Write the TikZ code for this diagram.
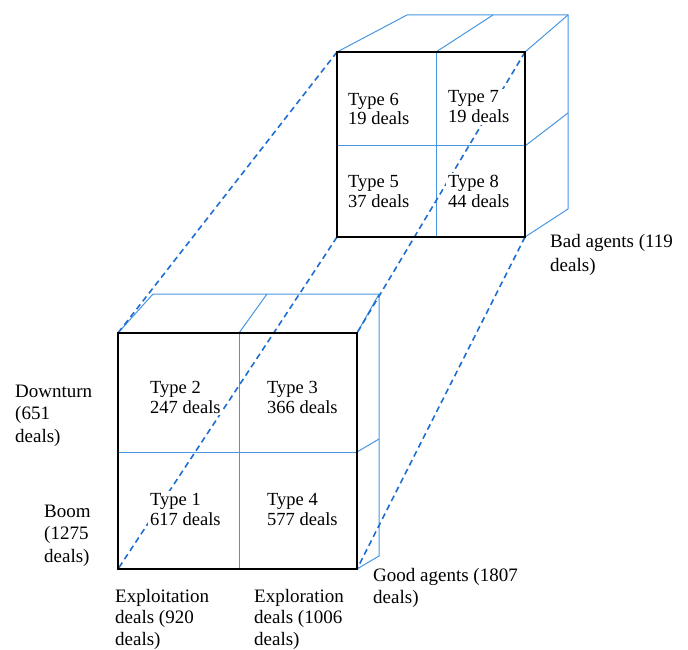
\documentclass[tikz,border=0pt]{standalone}
\usepackage{fontspec}
\setmainfont{Liberation Serif}
\definecolor{cubeblue}{RGB}{70,150,225}
\definecolor{dashblue}{RGB}{30,110,210}
\begin{document}
\begin{tikzpicture}[x=1pt,y=-1pt,
  grid/.style={cubeblue, line width=1pt},
  link/.style={dashblue, line width=1.6pt, dash pattern=on 6pt off 4pt},
  frame/.style={black, line width=2pt},
  cell/.style={anchor=base west, align=left, fill=white, inner sep=2pt, font=\fontsize{18.5}{20}\selectfont},
  axis/.style={anchor=base west, align=left, inner sep=0pt, font=\fontsize{19}{22.5}\selectfont}]
\useasboundingbox (0,0) rectangle (688,650);
% lower cube, front face corners
\coordinate (LTL) at (118,333); \coordinate (LTR) at (357,333);
\coordinate (LBR) at (357,569); \coordinate (LBL) at (118,569);
\coordinate (LTM) at (239,333); \coordinate (LBM) at (239,569);
\coordinate (LML) at (118,452); \coordinate (LMR) at (357,452);
% lower cube, back corners
\coordinate (LKL) at (153,294); \coordinate (LKM) at (267,294); \coordinate (LKR) at (379,294);
\coordinate (LKRM) at (379,439); \coordinate (LKRB) at (379,556);
% upper cube, front face corners
\coordinate (UTL) at (337,52); \coordinate (UTR) at (525,52);
\coordinate (UBR) at (525,237); \coordinate (UBL) at (337,237);
\coordinate (UTM) at (436,52); \coordinate (UBM) at (436,237);
\coordinate (UML) at (337,146); \coordinate (UMR) at (525,146);
% upper cube, back corners
\coordinate (UKL) at (407,15); \coordinate (UKM) at (493,15); \coordinate (UKR) at (568,15);
\coordinate (UKRM) at (568,113); \coordinate (UKRB) at (568,209);

% blue grid lines, lower cube
\draw[grid] (LTM) -- (LBM);
\draw[grid] (LML) -- (LMR);
\draw[grid] (LTL) -- (LKL) -- (LKR) -- (LKRB) -- (LBR);
\draw[grid] (LTM) -- (LKM);
\draw[grid] (LTR) -- (LKR);
\draw[grid] (LMR) -- (LKRM);
% blue grid lines, upper cube
\draw[grid] (UTM) -- (UBM);
\draw[grid] (UML) -- (UMR);
\draw[grid] (UTL) -- (UKL) -- (UKR) -- (UKRB) -- (UBR);
\draw[grid] (UTM) -- (UKM);
\draw[grid] (UTR) -- (UKR);
\draw[grid] (UMR) -- (UKRM);

% dashed links
\draw[link] (UTL) -- (LTL);
\draw[link] (UBL) -- (LBL);
\draw[link] (UTR) -- (LTR);
\draw[link] (UBR) -- (LBR);

% cell texts (anchored at the baseline of their last line)
\node[cell] (t1) at (148,525) {Type 1\\617 deals};
\node[cell] (t2) at (148,413) {Type 2\\247 deals};
\node[cell] (t3) at (265,413) {Type 3\\366 deals};
\node[cell] (t4) at (265,525) {Type 4\\577 deals};
\node[cell] (t5) at (346,207) {Type 5\\37 deals};
\node[cell] (t6) at (346,125) {Type 6\\19 deals};
\node[cell] (t7) at (446,123) {Type 7\\19 deals};
\node[cell] (t8) at (446,207) {Type 8\\44 deals};

% front frames
\draw[frame] (LTL) rectangle (LBR);
\draw[frame] (UTL) rectangle (UBR);

% axis labels (anchored at the baseline of their last line)
\node[axis] (down) at (15,442) {Downturn\\(651\\deals)};
\node[axis] (boom) at (44,562) {Boom\\(1275\\deals)};
\node[axis, font=\fontsize{19}{21.5}\selectfont] (exploit) at (115,645) {Exploitation\\deals (920\\deals)};
\node[axis, font=\fontsize{19}{21.5}\selectfont] (explore) at (254,645) {Exploration\\deals (1006\\deals)};
\node[axis, font=\fontsize{19}{21.5}\selectfont] (good) at (373,603) {Good agents (1807\\deals)};
\node[axis, font=\fontsize{19}{24}\selectfont] (bad) at (550,271) {Bad agents (119\\deals)};
\end{tikzpicture}
\end{document}
